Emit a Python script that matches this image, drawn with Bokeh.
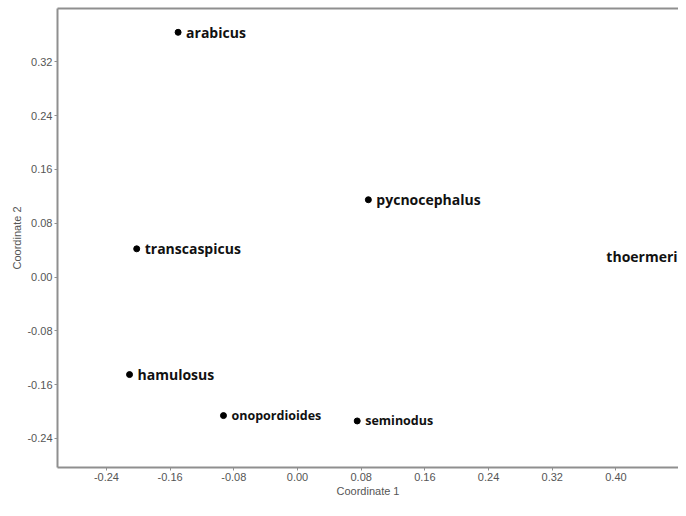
from bokeh.plotting import figure
from bokeh.models import ColumnDataSource, FixedTicker, PrintfTickFormatter, LinearAxis, Range1d
from bokeh.core.properties import value
from bokeh.embed import file_html
from bokeh.resources import INLINE

species = ["arabicus", "pycnocephalus", "transcaspicus", "thoermeri",
           "hamulosus", "onopordioides", "seminodus"]
coord1 = [-0.150, 0.089, -0.202, 0.490, -0.211, -0.093, 0.075]
coord2 = [0.364, 0.115, 0.042, 0.031, -0.145, -0.206, -0.214]
x_ticks = [-0.24, -0.16, -0.08, 0.00, 0.08, 0.16, 0.24, 0.32, 0.40]
y_ticks = [-0.24, -0.16, -0.08, 0.00, 0.08, 0.16, 0.24, 0.32]

small_labels = {"onopordioides", "seminodus"}
left_labels = {"thoermeri"}

sizes = ["12.5px" if s in small_labels else "14px" for s in species]
aligns = ["right" if s in left_labels else "left" for s in species]
xoffs = [-10 if s in left_labels else 8 for s in species]

src = ColumnDataSource(dict(x=coord1, y=coord2, name=species, size=sizes,
                            align=aligns, xoff=xoffs))

p = figure(width=678, height=500, output_backend="svg", toolbar_location=None,
           x_range=Range1d(-0.3015, 0.4786), y_range=Range1d(-0.2832, 0.3994),
           min_border_left=57, min_border_right=0, min_border_top=8,
           min_border_bottom=33)
p.outline_line_color = None
p.xgrid.visible = False
p.ygrid.visible = False
p.background_fill_color = "white"
p.border_fill_color = "white"

axis_color = "#8f8f8f"
for ax, ticks, lab in ((p.xaxis[0], x_ticks, "Coordinate 1"), (p.yaxis[0], y_ticks, "Coordinate 2")):
    ax.ticker = FixedTicker(ticks=ticks)
    ax.formatter = PrintfTickFormatter(format="%.2f")
    ax.axis_label = lab
    ax.axis_line_color = axis_color
    ax.axis_line_width = 2
    ax.major_tick_line_color = axis_color
    ax.major_tick_out = 3
    ax.major_tick_in = 0
    ax.minor_tick_line_color = None
    ax.major_label_text_font = "Liberation Sans"
    ax.major_label_text_font_size = "11px"
    ax.major_label_text_color = "#555555"
    ax.major_label_standoff = 2
    ax.axis_label_text_font = "Liberation Sans"
    ax.axis_label_text_font_size = "11px"
    ax.axis_label_text_font_style = "normal"
    ax.axis_label_text_color = "#555555"
    ax.axis_label_standoff = 1

top = LinearAxis(ticker=FixedTicker(ticks=[]), axis_line_color=axis_color,
                 axis_line_width=2, major_tick_out=0, major_tick_in=0,
                 minor_tick_line_color=None, major_label_text_font_size="0px")
p.add_layout(top, "above")

p.scatter("x", "y", source=src, size=6, color="black")
p.text("x", "y", text="name", source=src, text_font=value("Open Sans"),
       text_font_style="bold", text_font_size="size", text_align="align",
       text_baseline="middle", x_offset="xoff", text_color="#111111")

open("out.html", "w").write(file_html(p, INLINE))
